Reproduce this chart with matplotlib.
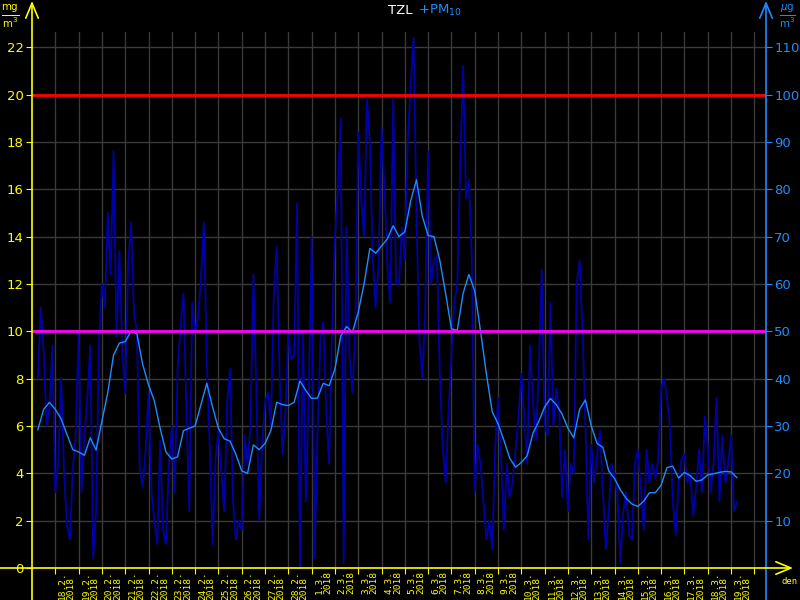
import numpy as np
import pandas as pd
import matplotlib
matplotlib.use('Agg')
import matplotlib.pyplot as plt
from matplotlib.patches import FancyArrowPatch

# PM10 [ug/m3], hodnoty po 3 hodinach od 17.2.2018 06:00
pm10_raw = [
    40, 55, 46, 30, 34, 47, 16, 22,
    40, 20, 9, 6, 21, 28, 50, 16,
    28, 36, 47, 2, 12, 48, 60, 55,
    75, 62, 88, 49, 67, 45, 37, 64,
    73, 54, 50, 21, 17, 25, 37, 16,
    10, 5, 27, 8, 5, 22, 30, 16,
    42, 51, 58, 33, 12, 56, 50, 53,
    61, 73, 44, 26, 5, 23, 29, 20,
    12, 35, 42, 14, 6, 10, 8, 28,
    22, 30, 62, 38, 10, 26, 35, 37,
    30, 57, 68, 41, 24, 33, 50, 44,
    45, 77, 0, 50, 14, 36, 70, 2,
    28, 48, 52, 33, 22, 50, 70, 80,
    95, 1, 72, 45, 37, 50, 92, 78,
    70, 99, 90, 65, 55, 64, 93, 80,
    64, 56, 99, 60, 60, 72, 65, 90,
    102, 112, 74, 48, 40, 54, 88, 60,
    65, 66, 41, 26, 18, 33, 45, 56,
    60, 85, 106, 78, 82, 65, 16, 26,
    22, 14, 6, 10, 4, 25, 36, 24,
    8, 22, 15, 18, 25, 32, 41, 32,
    22, 47, 35, 27, 42, 63, 30, 28,
    56, 30, 38, 33, 15, 25, 12, 22,
    20, 60, 65, 50, 30, 6, 26, 18,
    24, 29, 16, 4, 12, 22, 20, 15,
    1, 12, 16, 7, 6, 22, 25, 17,
    8, 25, 18, 22, 19, 23, 38, 40,
    36, 30, 14, 7, 18, 23, 24, 18,
    20, 11, 17, 25, 16, 32, 26, 16,
    22, 36, 14, 28, 18, 22, 28, 12,
    14,
]

# klouzavy prumer PM10 [ug/m3], po 6 hodinach od 17.2.2018 06:00
pm10_avg = [
    29.2, 33.5, 35.0, 33.5, 31.5, 28.2, 25.0, 24.5, 23.8, 27.5, 24.9, 31.0,
    37.0, 45.0, 47.5, 47.8, 50.0, 49.5, 43.0, 38.7, 35.3, 29.5, 24.5, 23.0,
    23.5, 29.0, 29.5, 30.0, 34.5, 39.0, 34.0, 29.5, 27.3, 26.8, 24.0, 20.5,
    20.0, 26.0, 25.0, 26.3, 29.0, 35.0, 34.5, 34.3, 35.0, 39.5, 37.5, 35.8,
    35.9, 39.0, 38.5, 42.0, 49.0, 51.0, 49.8, 54.0, 60.0, 67.5, 66.5, 68.0,
    69.5, 72.3, 70.0, 71.0, 77.5, 82.0, 74.3, 70.2, 70.0, 65.0, 58.0, 50.5,
    50.2, 58.0, 62.0, 58.5, 50.0, 41.0, 33.0, 30.5, 27.0, 23.2, 21.3, 22.3,
    23.7, 28.5, 31.0, 34.0, 35.8, 34.5, 32.5, 29.5, 27.5, 33.5, 35.5, 30.0,
    26.3, 25.5, 20.5, 18.9, 16.5, 14.7, 13.5, 13.0, 14.1, 15.9, 15.9, 17.5,
    21.2, 21.5, 19.0, 20.2, 19.5, 18.3, 18.6, 19.7, 19.9, 20.2, 20.4, 20.3,
    19.1,
]

limit_day = 50      # ug/m3
limit_alarm = 100   # ug/m3
left_ticks = [0, 2, 4, 6, 8, 10, 12, 14, 16, 18, 20, 22]          # mg/m3 (TZL)
right_ticks = [10, 20, 30, 40, 50, 60, 70, 80, 90, 100, 110]      # ug/m3

raw_times = pd.date_range('2018-02-17 06:00', periods=len(pm10_raw), freq='3h')
avg_times = pd.date_range('2018-02-17 06:00', periods=len(pm10_avg), freq='6h')
day_ticks = pd.date_range('2018-02-18', '2018-03-20', freq='D')
day_labels = pd.date_range('2018-02-18 12:00', '2018-03-19 12:00', freq='D')

YEL = '#ffff00'
BLUE = '#1e8cff'
W, H = 800, 600

fig = plt.figure(figsize=(8, 6), dpi=100, facecolor='black')
ax = fig.add_axes([32 / W, 32 / H, (766 - 32) / W, (568 - 32) / H])
ax.set_facecolor('black')

ymax = 113.2
ax.set_ylim(0, ymax)
ax.set_xlim(pd.Timestamp('2018-02-17'), pd.Timestamp('2018-03-20 12:00'))

ax.plot(raw_times, pm10_raw, color='#0000a8', lw=1.3, zorder=2)
ax.plot(avg_times, pm10_avg, color=BLUE, lw=1.0, zorder=3)
ax.axhline(limit_alarm, color='#ff0000', lw=2, zorder=4)
ax.axhline(limit_day, color='#ff00ff', lw=2, zorder=4)

# osa x: cary po dnech, popisky uprostred dne
ax.set_xticks(day_ticks)
ax.set_xticklabels([])
ax.set_xticks(day_labels, minor=True)
ax.set_xticklabels([f'{d.day}.{d.month}.\n{d.year}' for d in day_labels], minor=True)
ax.tick_params(axis='x', which='major', colors=YEL, length=4, direction='out')
ax.tick_params(axis='x', which='minor', length=0, pad=2, colors=YEL,
               labelsize=6.8, labelrotation=90)
for lbl in ax.get_xticklabels(minor=True):
    lbl.set_family('DejaVu Sans Mono')
    lbl.set_multialignment('left')
    lbl.set_linespacing(0.95)

# leva osa (mg/m3)
ax.set_yticks([v * 5 for v in left_ticks])
ax.set_yticklabels([str(v) for v in left_ticks])
ax.tick_params(axis='y', colors=YEL, length=4, direction='out', pad=2, labelsize=9.5)

ax.grid(True, which='major', color='#3a3a3a', lw=1)
ax.set_axisbelow(True)
for s in ax.spines.values():
    s.set_visible(False)

# prava osa (ug/m3)
ax2 = ax.twinx()
ax2.set_ylim(0, ymax)
ax2.set_yticks(right_ticks)
ax2.set_yticklabels([str(v) for v in right_ticks])
ax2.tick_params(axis='y', colors=BLUE, length=4, direction='out', pad=2, labelsize=9.5)
for s in ax2.spines.values():
    s.set_visible(False)

# osy se sipkami
def arrow(p0, p1, color):
    fig.add_artist(FancyArrowPatch((p0[0] / W, p0[1] / H), (p1[0] / W, p1[1] / H),
                                   transform=fig.transFigure, color=color, lw=1.2,
                                   arrowstyle='->,head_length=0.6,head_width=0.25',
                                   mutation_scale=18, shrinkA=0, shrinkB=0))

arrow((32, 0), (32, 599), YEL)
arrow((766, 0), (766, 599), BLUE)
arrow((0, 32), (793, 32), YEL)

# nadpis a jednotky
fig.text(412 / W, 1 - 10 / H, 'TZL', color='white', ha='right', va='center', fontsize=9.5)
fig.text(418 / W, 1 - 10 / H, '+PM$_{10}$', color=BLUE, ha='left', va='center', fontsize=9.5)
fig.text(10 / W, 1 - 16 / H, r'$\frac{\mathrm{mg}}{\mathrm{m^3}}$', color=YEL,
         ha='center', va='center', fontsize=10.5)
fig.text(787 / W, 1 - 16 / H, r'$\frac{\mu\mathrm{g}}{\mathrm{m^3}}$', color=BLUE,
         ha='center', va='center', fontsize=10.5)
fig.text(790 / W, 1 - 581 / H, 'den', color=YEL, ha='center', va='center',
         fontsize=6.5, family='DejaVu Sans Mono')

fig.savefig('out.png', dpi=100, facecolor='black')
